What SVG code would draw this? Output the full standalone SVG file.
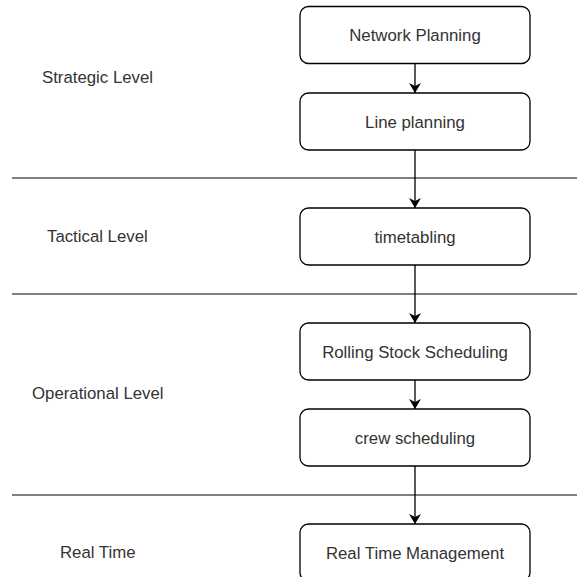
<svg xmlns="http://www.w3.org/2000/svg" width="577" height="577" viewBox="0 0 577 577">
  <style>
    .box { fill: #ffffff; stroke: #000000; stroke-width: 1.3; }
    .lbl { font-family: "Liberation Sans", Arial, sans-serif; font-size: 16.8px; fill: #333333; text-anchor: middle; }
    .lvl { font-family: "Liberation Sans", Arial, sans-serif; font-size: 16.8px; fill: #333333; }
    .sep { stroke: #555555; stroke-width: 1.5; fill: none; }
    .edge { stroke: #000000; stroke-width: 1.3; fill: none; marker-end: url(#arrow); }
  </style>
  <defs>
    <marker id="arrow" viewBox="0 0 10 12" refX="10" refY="6" markerWidth="10" markerHeight="12" markerUnits="userSpaceOnUse" orient="auto">
      <path d="M0,0 L10,6 L0,12 L3,6 Z" fill="#000000"/>
    </marker>
  </defs>
  <rect width="577" height="577" fill="#ffffff"/>

  <!-- level separators -->
  <g id="separators">
    <line class="sep" x1="12" y1="178" x2="577" y2="178"/>
    <line class="sep" x1="12" y1="294" x2="577" y2="294"/>
    <line class="sep" x1="12" y1="495" x2="577" y2="495"/>
  </g>

  <!-- level labels -->
  <g id="levels">
    <text class="lvl" x="42" y="83">Strategic Level</text>
    <text class="lvl" x="47" y="241.5">Tactical Level</text>
    <text class="lvl" x="32" y="398.5">Operational Level</text>
    <text class="lvl" x="60" y="558">Real Time</text>
  </g>

  <!-- connectors -->
  <g id="connectors">
    <line class="edge" x1="415" y1="63" x2="415" y2="93"/>
    <line class="edge" x1="415" y1="150" x2="415" y2="208"/>
    <line class="edge" x1="415" y1="265" x2="415" y2="323"/>
    <line class="edge" x1="415" y1="380" x2="415" y2="409"/>
    <line class="edge" x1="415" y1="466" x2="415" y2="524"/>
  </g>

  <g id="network-planning">
    <rect class="box" x="300" y="6.5" width="230" height="57" rx="8.5"/>
    <text class="lbl" x="415" y="41">Network Planning</text>
  </g>
  <g id="line-planning">
    <rect class="box" x="300" y="93" width="230" height="57" rx="8.5"/>
    <text class="lbl" x="415" y="127.5">Line planning</text>
  </g>
  <g id="timetabling">
    <rect class="box" x="300" y="208" width="230" height="57" rx="8.5"/>
    <text class="lbl" x="415" y="242.5">timetabling</text>
  </g>
  <g id="rolling-stock">
    <rect class="box" x="300" y="323" width="230" height="57" rx="8.5"/>
    <text class="lbl" x="415" y="357.5">Rolling Stock Scheduling</text>
  </g>
  <g id="crew-scheduling">
    <rect class="box" x="300" y="409" width="230" height="57" rx="8.5"/>
    <text class="lbl" x="415" y="443.5">crew scheduling</text>
  </g>
  <g id="real-time-management">
    <rect class="box" x="300" y="524" width="230" height="57" rx="8.5"/>
    <text class="lbl" x="415" y="558.5">Real Time Management</text>
  </g>
</svg>
